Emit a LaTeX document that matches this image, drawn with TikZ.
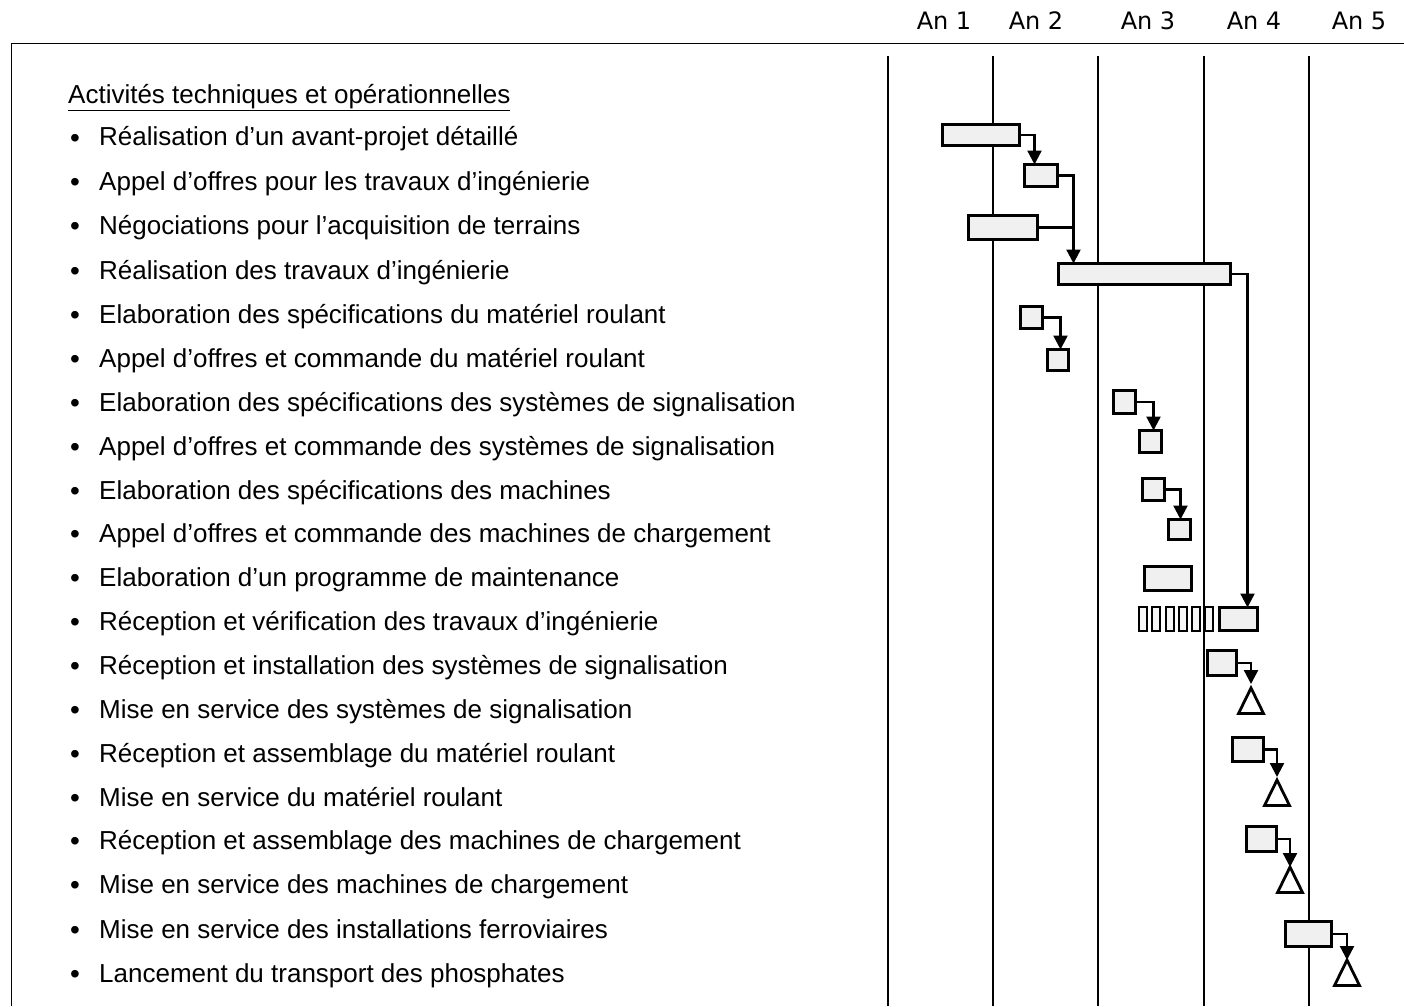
\documentclass[tikz,border=0pt]{standalone}
\usepackage{fontspec}
\setmainfont{Liberation Sans}
\newfontfamily\hdrfont{DejaVu Sans}
\usetikzlibrary{arrows.meta,calc}
\newcommand\gbar[5]{\node[gbarst, minimum width={(#4)-(#2)-3}, minimum height={(#5)-(#3)-3}] (#1) at ({(#2+#4)/2},{(#3+#5)/2}) {};}
\begin{document}
\begin{tikzpicture}[x=1pt,y=-1pt,
  gbarst/.style={draw, line width=3pt, fill=gray!12, inner sep=0pt, outer sep=0pt},
  slim/.style={draw, line width=2.2pt, fill=gray!6, inner sep=0pt, outer sep=0pt, minimum width=7.5pt, minimum height=24pt},
  arr/.style={line width=2.3pt, -{Triangle[width=14pt,length=14pt]}},
  conn/.style={line width=2.3pt},
  tri/.style={line width=2.8pt, line join=miter},
  grid/.style={line width=2pt},
  frame/.style={line width=1pt},
  itemtxt/.style={anchor=base west, inner sep=0pt, font=\fontsize{26}{30}\selectfont},
  hdr/.style={anchor=base, inner sep=0pt, font=\hdrfont\fontsize{24}{28}\selectfont}]
\useasboundingbox (0,0) rectangle (1404,1006);
% frame
\coordinate (fTL) at (11,44);
\coordinate (fTR) at (1404,44);
\coordinate (fBL) at (11,1006);
\draw[frame] (fTR) -- (fTL) -- (fBL);
% year grid
\foreach \x [count=\i] in {888,993,1098,1204,1309}{
  \coordinate (g\i t) at (\x,56);
  \coordinate (g\i b) at (\x,1006);
  \draw[grid] (g\i t) -- (g\i b);
}
% headers
\foreach \x/\t [count=\i] in {944/An 1,1036/An 2,1148/An 3,1254/An 4,1359/An 5}{
  \node[hdr] (h\i) at (\x,30) {\t};
}
% title
\node[itemtxt] (title) at (68,103) {\underline{Activités techniques et opérationnelles}};
% items
\foreach \y/\t [count=\i] in {
 137/Réalisation d’un avant-projet détaillé,
 181/Appel d’offres pour les travaux d’ingénierie,
 225/Négociations pour l’acquisition de terrains,
 270/Réalisation des travaux d’ingénierie,
 314/Elaboration des spécifications du matériel roulant,
 358/Appel d’offres et commande du matériel roulant,
 402/Elaboration des spécifications des systèmes de signalisation,
 446/Appel d’offres et commande des systèmes de signalisation,
 490/Elaboration des spécifications des machines,
 533/Appel d’offres et commande des machines de chargement,
 577/Elaboration d’un programme de maintenance,
 621/Réception et vérification des travaux d’ingénierie,
 665/Réception et installation des systèmes de signalisation,
 709/Mise en service des systèmes de signalisation,
 753/Réception et assemblage du matériel roulant,
 797/Mise en service du matériel roulant,
 840/Réception et assemblage des machines de chargement,
 884/Mise en service des machines de chargement,
 929/Mise en service des installations ferroviaires,
 973/Lancement du transport des phosphates}{
  \node[itemtxt, font=\fontsize{28}{30}\selectfont] (k\i) at (70,\y+10) {•};
  \node[itemtxt] (l\i) at (99,\y+9) {\t};
}
% bars
\gbar{b1}{941}{123}{1021}{147}
\gbar{b2}{1023}{163}{1059}{188}
\gbar{b3}{967}{214}{1039}{241}
\gbar{b4}{1057}{262}{1232}{286}
\gbar{b5}{1019}{305}{1044}{330}
\gbar{b6}{1046}{348}{1070}{372}
\gbar{b7}{1112}{389}{1137}{415}
\gbar{b8}{1138}{429}{1163}{454}
\gbar{b9}{1141}{477}{1166}{502}
\gbar{b10}{1167}{518}{1192}{541}
\gbar{b11}{1143}{565}{1193}{592}
\gbar{b12}{1218}{606}{1259}{632}
\gbar{b13}{1206}{649}{1238}{677}
\gbar{b15}{1231}{736}{1265}{763}
\gbar{b17}{1245}{825}{1278}{853}
\gbar{b19}{1284}{920}{1333}{948}
% slim boxes row 12
\foreach \x [count=\i] in {1143,1156,1170,1183,1196,1209}{
  \node[slim] (s\i) at (\x,619) {};
}
% milestones
\foreach \n/\x/\y in {m14/1251/688, m16/1277/780, m18/1290/867, m20/1347/960}{
  \coordinate (\n) at (\x,\y);
  \draw[tri] (\n) -- ++(12.5,25.5) -- ++(-25,0) -- cycle;
}
% connectors
\coordinate (d2) at ($(b2.north west)+(10,0)$);
\draw[arr] (b1.east) -| (d2);
\coordinate (d4) at ($(b4.north west)+(15,0)$);
\draw[arr] (b2.east) -| (d4);
\draw[conn] (b3.east) -- (b3.east -| d4);
\coordinate (d12) at ($(b12.north west)+(28,0)$);
\draw[arr] (b4.east) -| (d12);
\coordinate (d6) at ($(b6.north west)+(13,0)$);
\draw[arr] (b5.east) -| (d6);
\coordinate (d8) at ($(b8.north west)+(14,0)$);
\draw[arr] (b7.east) -| (d8);
\coordinate (d10) at ($(b10.north west)+(12,0)$);
\draw[arr] (b9.east) -| (d10);
\draw[arr] (b13.east) -| ($(m14)+(0,-4)$);
\draw[arr] (b15.east) -| ($(m16)+(0,-3)$);
\draw[arr] (b17.east) -| (m18);
\draw[arr] (b19.east) -| (m20);
\end{tikzpicture}
\end{document}
